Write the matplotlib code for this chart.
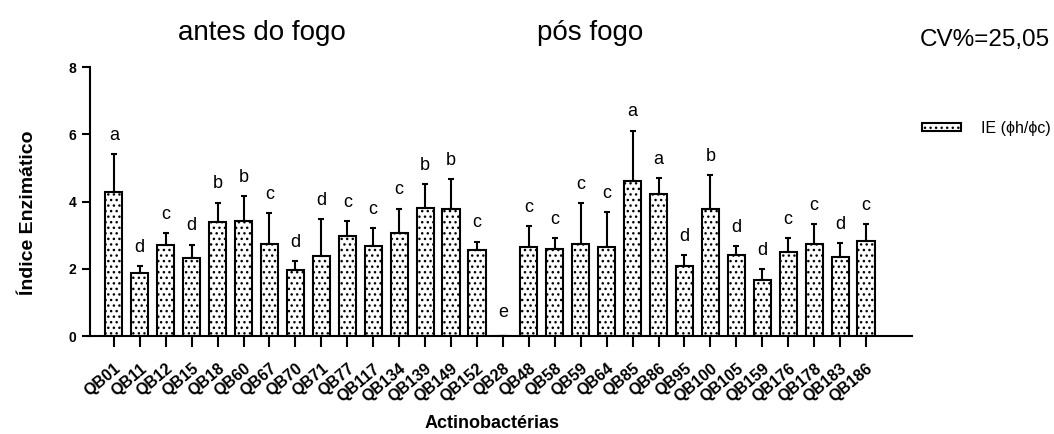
import matplotlib.pyplot as plt
import numpy as np

plt.rcParams['font.family'] = ['Liberation Sans', 'DejaVu Sans']
plt.rcParams['hatch.linewidth'] = 1.0

isolados = ['QB01', 'QB11', 'QB12', 'QB15', 'QB18', 'QB60', 'QB67', 'QB70', 'QB71', 'QB77',
            'QB117', 'QB134', 'QB139', 'QB149', 'QB152', 'QB28', 'QB48', 'QB58', 'QB59', 'QB64',
            'QB85', 'QB86', 'QB95', 'QB100', 'QB105', 'QB159', 'QB176', 'QB178', 'QB183', 'QB186']
ie = [4.29, 1.88, 2.70, 2.31, 3.38, 3.43, 2.74, 1.96, 2.37, 2.97,
      2.69, 3.07, 3.81, 3.77, 2.55, 0.0, 2.66, 2.59, 2.74, 2.64,
      4.61, 4.21, 2.09, 3.77, 2.42, 1.68, 2.51, 2.73, 2.35, 2.84]
erro = [1.13, 0.21, 0.36, 0.41, 0.59, 0.74, 0.92, 0.28, 1.11, 0.44,
        0.52, 0.72, 0.71, 0.91, 0.26, 0.0, 0.60, 0.31, 1.21, 1.04,
        1.50, 0.50, 0.32, 1.01, 0.26, 0.31, 0.39, 0.61, 0.42, 0.50]
letras = ['a', 'd', 'c', 'd', 'b', 'b', 'c', 'd', 'd', 'c',
          'c', 'c', 'b', 'b', 'c', 'e', 'c', 'c', 'c', 'c',
          'a', 'a', 'd', 'b', 'd', 'd', 'c', 'c', 'd', 'c']

fig = plt.figure(figsize=(10.54, 4.34), dpi=100)
ax = fig.add_axes([0.0854, 0.2258, 0.7798, 0.6198])

x = np.arange(len(isolados))
ax.bar(x, ie, width=0.66, color='white', edgecolor='black', linewidth=1.5,
       hatch='...', label='IE (ϕh/ϕc)')
ax.errorbar(x, ie, yerr=[np.zeros(len(erro)), erro], fmt='none', ecolor='black',
            elinewidth=1.5, capsize=2.5, capthick=1.5)

# letras da comparacao de medias acima de cada barra
for xi, v, e, l in zip(x, ie, erro, letras):
    topo = v + e + 0.3 if v > 0 else 0.45
    ax.text(xi, topo, l, ha='center', va='bottom', fontsize=13)

ax.set_xlim(-0.92, 30.77)
ax.set_ylim(0, 8)
ax.set_yticks([0, 2, 4, 6, 8])
ax.set_xticks(x)
ax.set_xticklabels(isolados, rotation=40, ha='right', va='top', rotation_mode='anchor',
                   fontsize=11.5, fontweight='bold')
for t in ax.get_yticklabels():
    t.set_fontweight('bold')
    t.set_fontsize(10)
ax.spines['top'].set_visible(False)
ax.spines['right'].set_visible(False)
ax.spines['left'].set_linewidth(1.5)
ax.spines['bottom'].set_linewidth(1.5)
ax.tick_params(axis='y', length=6, width=1.5, pad=4)
ax.tick_params(axis='x', length=8, width=1.5, pad=10)

ax.set_ylabel('Índice Enzimático', fontsize=14, fontweight='bold')
ax.yaxis.set_label_coords(-0.0645, 0.457)
ax.set_xlabel('Actinobactérias', fontsize=13, fontweight='bold')
ax.xaxis.set_label_coords(0.489, -0.294)

fig.text(262 / 1054, 1 - 33 / 434, 'antes do fogo', ha='center', va='center', fontsize=20)
fig.text(590 / 1054, 1 - 33 / 434, 'pós fogo', ha='center', va='center', fontsize=20)
fig.text(1050 / 1054, 1 - 40 / 434, 'CV%=25,05', ha='right', va='center', fontsize=17.5)

fig.legend(loc='center left', bbox_to_anchor=(908 / 1054, 1 - 128 / 434), frameon=False,
           fontsize=11.5, handlelength=2.4, handleheight=0.45, handletextpad=1.3)

plt.savefig('out.png', dpi=100)
